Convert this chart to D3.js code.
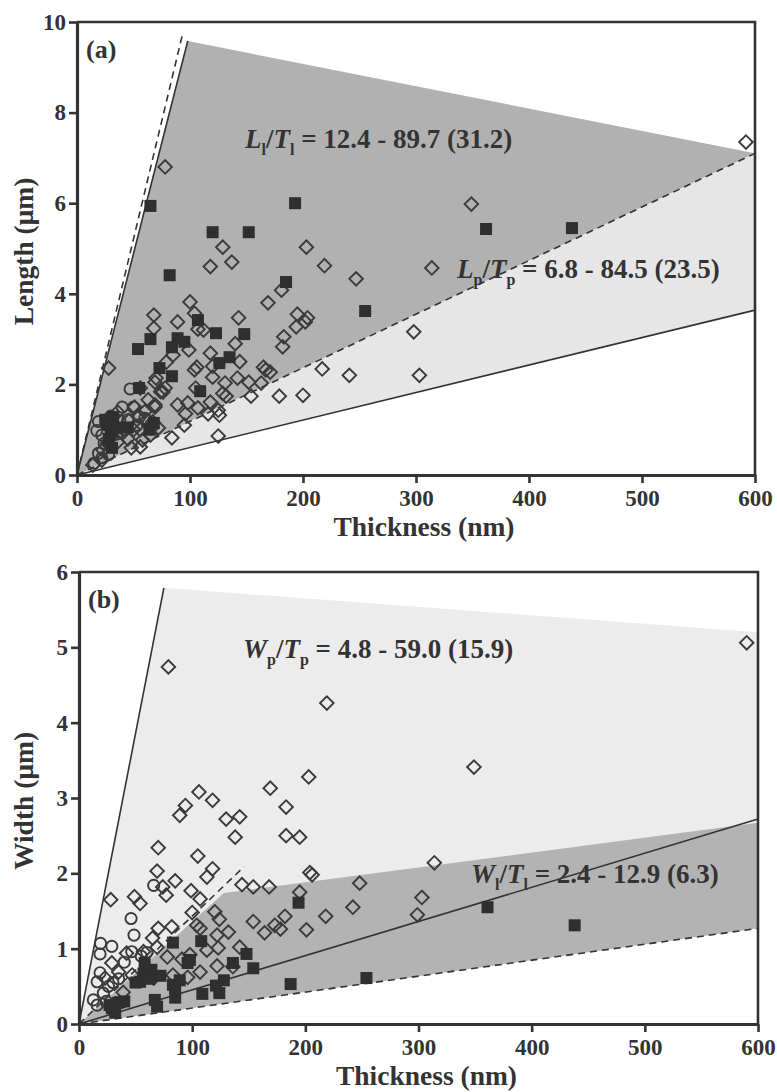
<!DOCTYPE html>
<html>
<head>
<meta charset="utf-8">
<title>Length and width vs thickness</title>
<script src="https://cdn.jsdelivr.net/npm/d3@7/dist/d3.min.js"></script>
<style>
  body { margin: 0; background: #fff; }
  svg text { font-family: "Liberation Serif", "Times New Roman", serif; font-weight: bold; fill: #333; }
  .axis path, .axis line { stroke: #333; }
  .axis text { font-size: 23px; }
</style>
</head>
<body>
<svg id="chart" width="777" height="1092"></svg>
<script>
// ticks
const thickTicks = [0, 100, 200, 300, 400, 500, 600]
const lengthTicks = [0, 2, 4, 6, 8, 10]
const widthTicks = [0, 1, 2, 3, 4, 5, 6]

// panel (a): [thickness nm, length um]
const lenDiamonds = [
  [592, 7.35], [349, 5.98], [314, 4.57], [298, 3.16], [303, 2.2],
  [78, 6.8], [129, 5.03], [118, 4.6], [137, 4.7], [203, 5.03], [219, 4.62], [247, 4.33],
  [100, 3.82], [68, 3.53], [68, 3.24], [89, 3.38], [104, 3.57], [112, 3.2], [107, 3.22],
  [143, 3.47], [169, 3.8], [181, 4.08], [195, 3.55], [194, 3.27], [204, 3.47], [202, 3.38],
  [183, 3.05], [182, 2.83], [140, 2.9], [144, 2.5], [118, 2.69], [120, 2.4], [106, 2.38],
  [99, 2.76], [85, 2.65], [79, 2.49], [70, 2.14], [76, 1.83], [69, 1.55], [89, 1.55],
  [98, 1.59], [96, 1.35], [95, 1.1], [105, 1.92], [107, 1.48], [118, 1.61], [120, 2.16],
  [126, 1.32], [125, 1.43], [131, 2.03], [132, 1.74], [142, 2.14], [152, 2.05], [154, 1.74],
  [116, 1.35], [125, 0.86], [84, 0.82], [163, 2.03], [167, 2.32], [171, 2.27], [179, 1.74],
  [200, 1.76], [217, 2.34], [241, 2.2], [28, 2.36], [56, 0.62], [129, 1.8], [165, 2.38],
  [104, 2.32], [69, 2.05], [78, 1.92], [74, 1.84], [69, 1.5], [62, 1.21], [54, 1.32],
  [67, 1.17], [36, 1.39], [22, 0.33], [14, 0.22], [23, 0.55], [31, 0.85], [34, 1.0],
  [40, 0.92], [45, 0.8], [50, 1.0], [56, 1.0], [58, 0.77], [66, 1.04], [72, 1.04],
  [65, 0.88], [27, 0.7], [36, 0.73], [51, 1.5], [63, 1.66], [56, 1.92], [46, 1.2],
  [60, 1.4], [48, 0.6]
]
const lenSquares = [
  [65, 5.94], [120, 5.36], [152, 5.36], [193, 6.0], [82, 4.41], [362, 5.43], [438, 5.45],
  [255, 3.62], [185, 4.26], [54, 2.78], [65, 3.0], [84, 2.82], [89, 3.02], [95, 2.94],
  [107, 3.42], [123, 3.13], [148, 3.11], [126, 2.47], [135, 2.6], [84, 2.18], [73, 2.36],
  [109, 1.85], [55, 1.92], [32, 1.28], [27, 1.12], [30, 0.96], [36, 1.05], [25, 1.22],
  [68, 1.15], [31, 0.6], [64, 1.0], [28, 0.8], [45, 1.05]
]
const lenCircles = [
  [47, 1.9], [45, 1.22], [19, 1.18], [17.5, 0.98], [15, 0.26], [19, 0.48], [22, 0.38],
  [24, 0.7], [30, 1.3], [40, 1.5], [50, 1.5], [55, 1.28], [35, 0.9], [42, 1.0],
  [60, 1.25], [28, 0.45], [38, 1.2], [53, 1.1], [22, 0.88]
]
const lenDarkRegion = [[0, 0], [98, 9.58], [600, 7.1]]
const lenLightRegion = [[0, 0], [600, 7.1], [600, 3.64]]
const lenSolidLines = [[[0, 0], [98, 9.58]], [[0, 0], [600, 3.64]]]
const lenDashedLines = [[[0, 0], [93, 9.69]], [[0, 0], [600, 7.1]]]

// panel (b): [thickness nm, width um]
const widDiamonds = [
  [590, 5.06], [349, 3.41], [314, 2.14], [303, 1.68], [299, 1.45],
  [79, 4.74], [219, 4.26], [203, 3.28], [169, 3.13], [183, 2.88], [106, 3.08], [118, 2.97],
  [94, 2.9], [89, 2.77], [130, 2.72], [142, 2.75], [138, 2.48], [183, 2.5], [195, 2.48],
  [70, 2.34], [105, 2.23], [69, 2.03], [118, 2.06], [113, 1.95], [85, 1.9], [74, 1.82],
  [77, 1.71], [28, 1.65], [49, 1.69], [54, 1.6], [99, 1.77], [107, 1.66], [144, 1.85],
  [154, 1.82], [168, 1.82], [195, 1.75], [204, 2.01], [206, 1.98], [248, 1.87], [100, 1.48],
  [82, 1.29], [70, 1.27], [104, 1.31], [107, 1.27], [120, 1.49], [124, 1.39], [132, 1.22],
  [122, 1.18], [154, 1.36], [164, 1.21], [173, 1.31], [178, 1.26], [182, 1.43], [201, 1.25],
  [218, 1.43], [242, 1.55], [113, 0.98], [142, 1.02], [136, 0.76], [122, 0.77], [107, 0.69],
  [98, 0.92], [91, 0.86], [83, 0.65], [96, 0.62], [69, 1.02], [57, 0.96], [42, 0.94],
  [29, 0.81], [35, 0.69], [23, 0.61], [39, 0.42], [47, 0.65], [60, 0.72], [66, 0.61],
  [78, 0.89], [65, 1.14], [123, 1.01]
]
const widSquares = [
  [361, 1.55], [438, 1.31], [254, 0.61], [187, 0.53], [194, 1.61], [154, 0.74], [148, 0.93],
  [136, 0.81], [108, 1.1], [83, 1.08], [96, 0.81], [89, 0.58], [83, 0.52], [85, 0.35],
  [109, 0.4], [124, 0.41], [128, 0.58], [121, 0.51], [72, 0.64], [67, 0.32], [69, 0.23],
  [64, 0.72], [57, 0.67], [54, 0.56], [36, 0.29], [29, 0.21], [32, 0.15], [98, 0.85],
  [85, 0.49], [58, 0.81], [27, 0.25], [34, 0.28], [40, 0.3], [62, 0.6], [50, 0.55]
]
const widCircles = [
  [66, 1.84], [46, 1.4], [48.6, 1.18], [19, 1.07], [29, 1.03], [18.6, 0.93], [46.6, 0.96],
  [18.6, 0.68], [12.7, 0.32], [16, 0.25], [21.5, 0.41], [16, 0.56], [26, 0.5], [35, 0.6],
  [40, 0.82], [55, 0.9], [60, 0.95], [24, 0.3], [30, 0.55]
]
const widLightRegion = [[0, 0], [75, 5.79], [600, 5.2], [600, 1.27]]
const widDarkRegion = [[0, 0], [128, 1.74], [600, 2.67], [600, 1.27]]
const widSolidLines = [[[0, 0], [75, 5.79]], [[0, 0], [600, 2.72]]]
const widDashedLines = [[[0, 0], [146, 2.09]], [[0, 0], [600, 1.27]]]

const svg = d3.select('#chart')

function drawPanel(p) {
  const x = d3.scaleLinear().domain([0, 600]).range([p.left, p.right])
  const y = d3.scaleLinear().domain([0, p.yMax]).range([p.bottom, p.top])
  const g = svg.append('g')
  const line = d3.line().x(d => x(d[0])).y(d => y(d[1]))
  const poly = pts => line(pts) + 'Z'

  // shaded regions
  p.regions.forEach(r => {
    g.append('path').attr('d', poly(r.pts)).attr('fill', r.fill)
  })

  // boundary lines
  p.solid.forEach(l => {
    g.append('path').attr('d', line(l)).attr('fill', 'none')
      .attr('stroke', '#333').attr('stroke-width', 1.6)
  })
  p.dashed.forEach(l => {
    g.append('path').attr('d', line(l)).attr('fill', 'none')
      .attr('stroke', '#333').attr('stroke-width', 1.6).attr('stroke-dasharray', '7,5')
  })

  // markers
  g.selectAll('.dia').data(p.diamonds).enter().append('path')
    .attr('class', 'dia')
    .attr('d', d3.symbol().type(d3.symbolSquare).size(92))
    .attr('transform', d => `translate(${x(d[0])},${y(d[1])}) rotate(45)`)
    .attr('fill', 'none').attr('stroke', '#3a3a3a').attr('stroke-width', 1.9)

  g.selectAll('.circ').data(p.circles).enter().append('circle')
    .attr('class', 'circ')
    .attr('cx', d => x(d[0])).attr('cy', d => y(d[1])).attr('r', 5.6)
    .attr('fill', 'none').attr('stroke', '#3a3a3a').attr('stroke-width', 1.9)

  g.selectAll('.sq').data(p.squares).enter().append('rect')
    .attr('class', 'sq')
    .attr('x', d => x(d[0]) - 6).attr('y', d => y(d[1]) - 6)
    .attr('width', 12).attr('height', 12).attr('fill', '#2f2f2f')

  // frame (top / right)
  g.append('path')
    .attr('d', `M${p.left},${p.top}H${p.right}V${p.bottom}`)
    .attr('fill', 'none').attr('stroke', '#333').attr('stroke-width', 2.6)

  // axes
  const xAxis = d3.axisBottom(x).tickValues(thickTicks).tickFormat(d3.format('d'))
    .tickSize(8).tickSizeOuter(0).tickPadding(7)
  const yAxis = d3.axisLeft(y).tickValues(p.yTicks).tickFormat(d3.format('d'))
    .tickSize(8).tickSizeOuter(0).tickPadding(3)
  const gx = g.append('g').attr('class', 'axis').attr('transform', `translate(0,${p.bottom})`).call(xAxis)
  const gy = g.append('g').attr('class', 'axis').attr('transform', `translate(${p.left},0)`).call(yAxis)
  ;[gx, gy].forEach(a => {
    a.select('.domain').attr('stroke-width', 3.2)
    a.selectAll('.tick line').attr('stroke-width', 2.6)
    a.selectAll('text').attr('fill', '#333')
  })

  // axis titles
  g.append('text')
    .attr('x', (p.left + p.right) / 2 + 8).attr('y', p.bottom + 61)
    .attr('text-anchor', 'middle').style('font-size', '27.5px')
    .text('Thickness (nm)')
  g.append('text')
    .attr('transform', `translate(33,${(p.top + p.bottom) / 2 + 3}) rotate(-90)`)
    .attr('text-anchor', 'middle').style('font-size', '27.5px')
    .text(p.yTitle)

  // panel letter
  g.append('text').attr('x', p.left + 9).attr('y', p.top + 36)
    .style('font-size', '26px').text(p.letter)

  // ratio annotations
  p.notes.forEach(n => {
    const t = g.append('text').attr('x', n.x).attr('y', n.y).style('font-size', '27px')
    t.append('tspan').style('font-style', 'italic').text(n.a)
    t.append('tspan').attr('dy', 7).style('font-size', '16px').text(n.sub)
    t.append('tspan').attr('dy', -7).text('/')
    t.append('tspan').style('font-style', 'italic').text('T')
    t.append('tspan').attr('dy', 7).style('font-size', '16px').text(n.sub)
    t.append('tspan').attr('dy', -7).text(' = ' + n.text)
  })
}

drawPanel({
  left: 77, right: 755, top: 22, bottom: 475, yMax: 10, yTicks: lengthTicks,
  yTitle: 'Length (\u03bcm)', letter: '(a)',
  regions: [{ pts: lenLightRegion, fill: '#e6e6e6' }, { pts: lenDarkRegion, fill: '#b1b1b1' }],
  solid: lenSolidLines, dashed: lenDashedLines,
  diamonds: lenDiamonds, squares: lenSquares, circles: lenCircles,
  notes: [
    { x: 245, y: 148, a: 'L', sub: 'l', text: '12.4 - 89.7 (31.2)' },
    { x: 457, y: 278, a: 'L', sub: 'p', text: '6.8 - 84.5 (23.5)' }
  ]
})

drawPanel({
  left: 79, right: 758, top: 572, bottom: 1024, yMax: 6, yTicks: widthTicks,
  yTitle: 'Width (\u03bcm)', letter: '(b)',
  regions: [{ pts: widLightRegion, fill: '#ececec' }, { pts: widDarkRegion, fill: '#b3b3b3' }],
  solid: widSolidLines, dashed: widDashedLines,
  diamonds: widDiamonds, squares: widSquares, circles: widCircles,
  notes: [
    { x: 243, y: 658, a: 'W', sub: 'p', text: '4.8 - 59.0 (15.9)' },
    { x: 471, y: 883, a: 'W', sub: 'l', text: '2.4 - 12.9 (6.3)' }
  ]
})
</script>
</body>
</html>
